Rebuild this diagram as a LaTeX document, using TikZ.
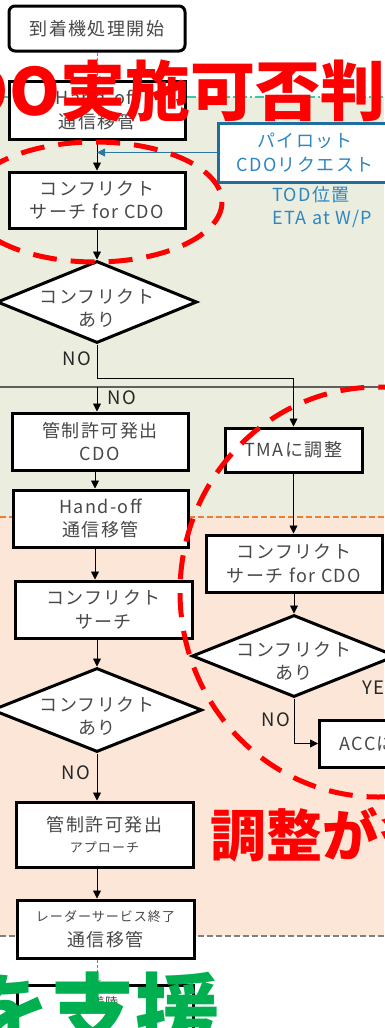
\documentclass[tikz,border=0pt]{standalone}
\usepackage{fontspec}
\setmainfont{Noto Sans CJK JP}
\newfontfamily\boxfont{Noto Sans CJK JP}[LetterSpace=8]
\usetikzlibrary{shapes.geometric,arrows.meta,calc}
\definecolor{bggreen}{HTML}{EBEEDF}
\definecolor{bgpeach}{HTML}{FCE6D8}
\definecolor{txt}{HTML}{484848}
\definecolor{pblue}{HTML}{1F6E9E}
\definecolor{ptext}{HTML}{2E86C1}
\definecolor{parrow}{HTML}{2A78A8}
\definecolor{tealline}{HTML}{3CC8A0}
\definecolor{orangeline}{HTML}{ED7D31}
\definecolor{sepgray}{HTML}{5F5F5F}
\definecolor{dashgray}{HTML}{808080}
\definecolor{bigred}{HTML}{FF0000}
\definecolor{biggreen}{HTML}{00B050}
\newcommand\mainsz{\boxfont\fontsize{18}{23.5}\selectfont}
\newcommand\smallsz{\fontsize{13}{15}\selectfont}
\begin{document}
\begin{tikzpicture}[x=1pt,y=-1pt,
  box/.style={draw=black,line width=3pt,fill=white,inner sep=0pt,text=txt,align=center,font=\mainsz},
  dia/.style={diamond,draw=black,line width=3pt,fill=white,inner sep=0pt},
  diatext/.style={inner sep=0pt,text=txt,align=center,font=\mainsz},
  arr/.style={line width=0.9pt,-{Triangle[length=8pt,width=8pt]}},
  dasharr/.style={draw=dashgray,line width=0.8pt,dash pattern=on 3pt off 2pt,-{Straight Barb[length=3pt,width=7pt]}},
  lbl/.style={font=\boxfont\fontsize{18.5}{18.5}\selectfont,text=black!85,inner sep=0pt},
  ell/.style={draw=bigred,line width=5pt,dash pattern=on 24pt off 14pt},
  bigtext/.style={inner sep=0pt,anchor=base west,font=\bfseries}
]
\useasboundingbox (0,0) rectangle (384,1028);
% backgrounds
\fill[white] (0,0) rectangle (384,1028);
\fill[bggreen] (0,97) rectangle (384,517);
\fill[bgpeach] (0,517) rectangle (384,936);
\draw[tealline,line width=1.5pt,dash pattern=on 9pt off 3pt on 2pt off 3pt] (0,97) -- (384,97);
\draw[orangeline,line width=1.5pt,dash pattern=on 6pt off 3pt] (0,517) -- (384,517);
\draw[dashgray,line width=1.5pt,dash pattern=on 6pt off 3pt] (0,936) -- (384,936);
\draw[sepgray,line width=1.5pt] (0,387) -- (384,387);

% left column
\coordinate (L) at (97,0);
\coordinate (L2) at (95,0);
\node[box,rounded corners=6pt,minimum width=176pt,minimum height=45pt] (start) at (97,28.5) {到着機処理開始};
\node[box,minimum width=176pt,minimum height=58pt] (ho1) at (97,110) {Hand-off\\通信移管};
\node[box,minimum width=176pt,minimum height=56pt] (cs1) at (97,200) {コンフリクト\\サーチ for CDO};
\node[dia,minimum width=200pt,minimum height=82pt] (d1) at (97,302) {};
\node[diatext] (d1t) at (97,308) {コンフリクト\\あり};
\node[box,minimum width=176pt,minimum height=57pt] (cdo) at (100,441.5) {管制許可発出\\CDO};
\node[box,minimum width=175pt,minimum height=57pt] (ho2) at (100.5,518.5) {Hand-off\\通信移管};
\node[box,minimum width=177pt,minimum height=57pt] (cs2) at (103.5,609.5) {コンフリクト\\サーチ};
\node[dia,minimum width=210pt,minimum height=84pt] (d2) at (97,710) {};
\node[diatext] (d2t) at (97,716) {コンフリクト\\あり};
\node[box,minimum width=177pt,minimum height=65pt] (appr) at (104.5,834.5) {管制許可発出\\[-3pt]{\smallsz アプローチ}};
\node[box,minimum width=177pt,minimum height=58pt] (radar) at (105.5,929) {{\smallsz レーダーサービス終了}\\[1pt]通信移管};
\node[box,minimum width=176pt,minimum height=60pt] (land) at (105,1015) {};
\node[diatext,font=\smallsz] (landt) at (105,1003) {着陸};

% right column
\node[box,draw=pblue,text=ptext,minimum width=174pt,minimum height=59pt] (pilot) at (305,152.5) {パイロット\\CDOリクエスト};
\node[inner sep=0pt,text=ptext,align=left,font=\mainsz,anchor=north west] (tod) at (272,186) {TOD位置\\ETA at W/P};
\node[box,minimum width=137pt,minimum height=44pt] (tma) at (293.5,450) {TMAに調整};
\node[box,minimum width=176pt,minimum height=57pt] (cs3) at (294,563.5) {コンフリクト\\サーチ for CDO};
\node[dia,minimum width=204pt,minimum height=82pt] (d3) at (294,656) {};
\node[diatext] (d3t) at (294,661) {コンフリクト\\あり};
\node[box,anchor=west,minimum height=47pt,text width=170pt,align=left,inner xsep=20pt] (acc) at (318,743.5) {ACCに調整};

% labels
\node[lbl] (no1) at (77,359) {NO};
\node[lbl] (no2) at (122,398) {NO};
\node[lbl] (no3) at (76,773) {NO};
\node[lbl] (no4) at (276,720) {NO};
\node[lbl,anchor=west] (yes) at (362,688) {YES};

% connectors
\draw[dasharr] (start.south) -- (ho1.north);
\draw[arr] (ho1.south) -- (cs1.north);
\draw[arr,draw=parrow] (pilot.west) -- (pilot.west -| L);
\draw[arr] (cs1.south) -- (d1.north);
\draw[arr] (d1.south) -- ++(0,34) -| (tma.north);
\coordinate (nofrom) at (97,387);
\draw[arr] (nofrom) -- (cdo.north -| nofrom);
\draw[arr] (cdo.south -| L2) -- (ho2.north -| L2);
\draw[arr] (ho2.south -| L2) -- (cs2.north -| L2);
\draw[arr] (cs2.south -| d2.north) -- (d2.north);
\draw[arr] (d2.south) -- (appr.north -| d2.south);
\draw[arr] (appr.south -| L) -- (radar.north -| L);
\draw[dasharr] (radar.south -| L) -- (land.north -| L);
\draw[arr] (tma.south) -- (cs3.north -| tma.south);
\draw[arr] (cs3.south) -- (d3.north);
\draw[arr] (d3.south) |- (acc.west);

% red dashed ellipses
\draw[ell] (95,202) ellipse [x radius=127, y radius=60];
\draw[ell] (378,592) ellipse [x radius=198, y radius=205];

% big overlay texts
\node[bigtext,text=bigred,font=\fontsize{65}{65}\selectfont\bfseries] (t1) at (60,115) {\llap{CDO}実施可否判断};
\node[bigtext,text=bigred,font=\fontsize{56}{56}\selectfont\bfseries] (t2) at (210,856) {調整が多};
\node[bigtext,text=biggreen,font=\fontsize{85}{85}\selectfont\bfseries] (t3) at (50.5,1044) {\llap{を}支援};
\end{tikzpicture}
\end{document}
